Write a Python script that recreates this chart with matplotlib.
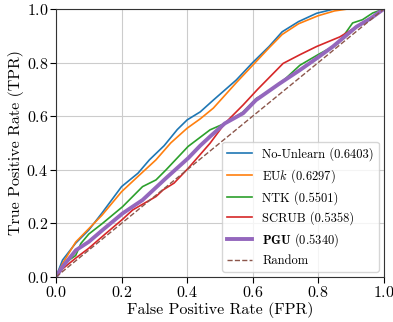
import matplotlib
matplotlib.use('Agg')
import matplotlib.pyplot as plt

plt.rcParams['font.family'] = 'serif'
plt.rcParams['font.serif'] = ['cmr10', 'DejaVu Serif']
plt.rcParams['mathtext.fontset'] = 'cm'
plt.rcParams['axes.formatter.use_mathtext'] = True
plt.rcParams['axes.unicode_minus'] = False

# ROC curves
noun_fpr = [0, 0.02, 0.06, 0.10, 0.14, 0.20, 0.25, 0.285, 0.33, 0.37, 0.40, 0.44, 0.48, 0.55, 0.60, 0.65, 0.69, 0.74, 0.795, 0.845, 0.88, 1.0]
noun_tpr = [0, 0.063, 0.126, 0.175, 0.238, 0.337, 0.387, 0.437, 0.49, 0.55, 0.586, 0.616, 0.66, 0.735, 0.80, 0.86, 0.915, 0.953, 0.984, 0.999, 1.0, 1.0]

euk_fpr = [0, 0.02, 0.06, 0.10, 0.14, 0.20, 0.25, 0.305, 0.35, 0.40, 0.44, 0.48, 0.55, 0.60, 0.65, 0.69, 0.74, 0.80, 0.85, 0.89, 1.0]
euk_tpr = [0, 0.05, 0.13, 0.18, 0.23, 0.318, 0.375, 0.437, 0.50, 0.555, 0.59, 0.63, 0.725, 0.79, 0.855, 0.905, 0.945, 0.975, 0.993, 1.0, 1.0]

ntk_fpr = [0, 0.02, 0.04, 0.06, 0.076, 0.10, 0.142, 0.203, 0.264, 0.305, 0.336, 0.403, 0.47, 0.515, 0.57, 0.612, 0.642, 0.70, 0.744, 0.80, 0.86, 0.905, 0.935, 0.966, 1.0]
ntk_tpr = [0, 0.04, 0.063, 0.08, 0.125, 0.16, 0.20, 0.262, 0.337, 0.362, 0.40, 0.487, 0.549, 0.573, 0.615, 0.667, 0.687, 0.74, 0.79, 0.83, 0.87, 0.948, 0.96, 0.985, 1.0]

scrub_fpr = [0, 0.02, 0.06, 0.10, 0.15, 0.203, 0.234, 0.305, 0.327, 0.36, 0.403, 0.47, 0.515, 0.571, 0.615, 0.693, 0.745, 0.795, 0.866, 0.917, 0.96, 1.0]
scrub_tpr = [0, 0.03, 0.07, 0.107, 0.16, 0.215, 0.25, 0.30, 0.325, 0.35, 0.405, 0.499, 0.573, 0.642, 0.70, 0.797, 0.83, 0.86, 0.896, 0.934, 0.965, 1.0]

pgu_fpr = [0, 0.02, 0.061, 0.10, 0.142, 0.203, 0.264, 0.335, 0.403, 0.44, 0.47, 0.515, 0.571, 0.61, 0.68, 0.744, 0.80, 0.845, 0.917, 0.96, 1.0]
pgu_tpr = [0, 0.038, 0.10, 0.131, 0.175, 0.237, 0.287, 0.368, 0.443, 0.49, 0.524, 0.573, 0.611, 0.66, 0.72, 0.772, 0.82, 0.86, 0.934, 0.965, 1.0]

labels = ['No-Unlearn (0.6403)', 'EU$k$ (0.6297)', 'NTK (0.5501)', 'SCRUB (0.5358)', r'$\mathbf{PGU}$ (0.5340)']

fig = plt.figure(figsize=(3.93, 3.22), dpi=100)
ax = fig.add_axes([0.1425, 0.14, 0.834, 0.832])

ax.plot(noun_fpr, noun_tpr, color='tab:blue', lw=1.2, label=labels[0])
ax.plot(euk_fpr, euk_tpr, color='tab:orange', lw=1.2, label=labels[1])
ax.plot(ntk_fpr, ntk_tpr, color='tab:green', lw=1.2, label=labels[2])
ax.plot(scrub_fpr, scrub_tpr, color='tab:red', lw=1.2, label=labels[3])
ax.plot(pgu_fpr, pgu_tpr, color='tab:purple', lw=2.8, label=labels[4])
ax.plot([0, 1], [0, 1], color='tab:brown', lw=1.0, ls='--', label='Random')

ax.set_xlim(0, 1)
ax.set_ylim(0, 1)
ax.set_xticks([0, 0.2, 0.4, 0.6, 0.8, 1.0])
ax.set_yticks([0, 0.2, 0.4, 0.6, 0.8, 1.0])
ax.tick_params(labelsize=11.5, length=4, pad=1.5)
ax.grid(True, color='#cccccc', lw=0.8)
ax.set_axisbelow(True)
for s in ax.spines.values():
    s.set_color('#333333')
ax.set_xlabel('False Positive Rate (FPR)', fontsize=11.5, labelpad=2)
ax.set_ylabel('True Positive Rate (TPR)', fontsize=11.5, labelpad=2)

ax.legend(loc='lower right', fontsize=9, framealpha=0.8, borderaxespad=0.4)

fig.savefig('out.png', dpi=100)
